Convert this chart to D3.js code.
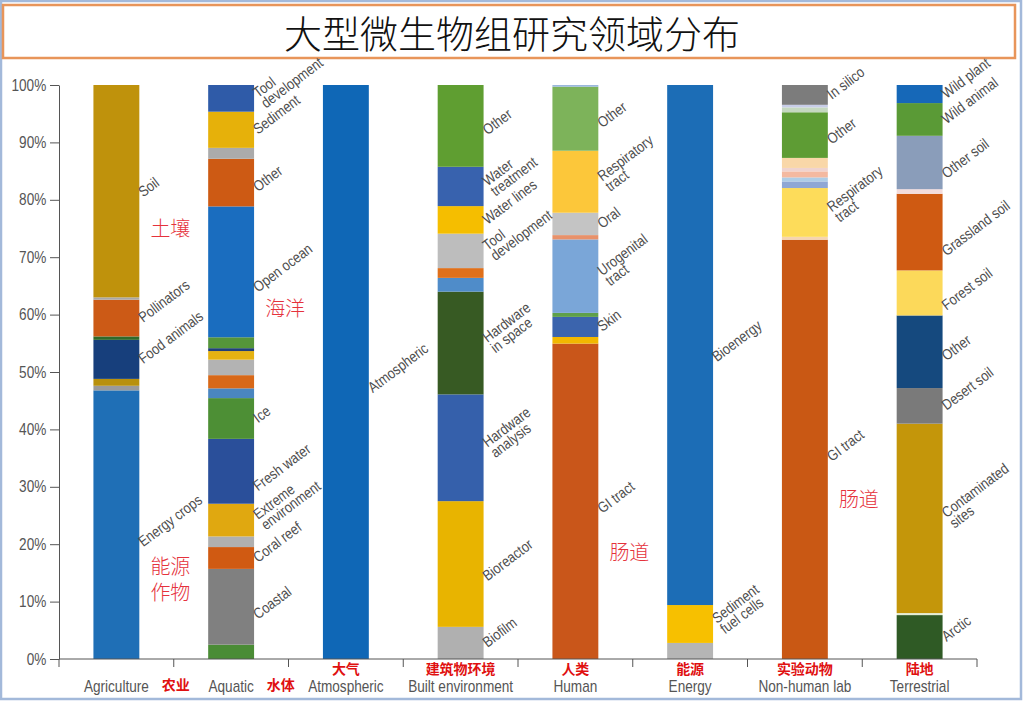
<!DOCTYPE html>
<html>
<head>
<meta charset="utf-8">
<script src="https://cdnjs.cloudflare.com/ajax/libs/d3/7.8.5/d3.min.js"></script>
<style>
  html, body { margin: 0; padding: 0; background: #fff; }
  svg { display: block; }
</style>
</head>
<body>
<div class="content"></div>
<script>
// categories along the x axis, with their chinese captions
var categories = ["Agriculture", "Aquatic", "Atmospheric", "Built environment", "Human", "Energy", "Non-human lab", "Terrestrial"];
var zhCategories = ["农业", "水体", "大气", "建筑物环境", "人类", "能源", "实验动物", "陆地"];
var yTicks = [0, 10, 20, 30, 40, 50, 60, 70, 80, 90, 100];

// segments of every bar, bottom to top: [label, percent]
var agriculture = [["Energy crops", 46.8], ["", 0.8], ["", 1.2], ["Food animals", 6.8], ["", 0.6], ["Pollinators", 6.4], ["", 0.4], ["Soil", 37.0]];
var aquatic = [["", 2.5], ["Coastal", 13.2], ["Coral reef", 3.8], ["", 1.85], ["Extreme\nenvironment", 5.7], ["Fresh water", 11.3], ["Ice", 7.1], ["", 1.7], ["", 2.3], ["", 2.7], ["", 1.5], ["", 0.5], ["", 1.9], ["Open ocean", 22.8], ["Other", 8.3], ["", 1.9], ["Sediment", 6.3], ["Tool\ndevelopment", 4.65]];
var atmospheric = [["Atmospheric", 100]];
var builtEnvironment = [["Biofilm", 5.6], ["Bioreactor", 21.9], ["Hardware\nanalysis", 18.6], ["Hardware\nin space", 17.9], ["", 2.4], ["", 1.7], ["Tool\ndevelopment", 6.0], ["Water lines", 4.8], ["Water\ntreatment", 6.85], ["Other", 14.25]];
var human = [["GI tract", 54.95], ["", 1.15], ["Skin", 3.5], ["", 0.7], ["Urogenital\ntract", 12.8], ["", 0.75], ["Oral", 3.9], ["Respiratory\ntract", 10.8], ["Other", 11.15], ["", 0.3]];
var energy = [["", 2.8], ["Sediment\nfuel cells", 6.6], ["Bioenergy", 90.6]];
var nonHumanLab = [["GI tract", 73.05], ["", 0.5], ["Respiratory\ntract", 8.5], ["", 1.15], ["", 0.7], ["", 1.05], ["", 0.6], ["", 1.75], ["Other", 7.95], ["", 0.85], ["", 0.45], ["In silico", 3.45]];
var terrestrial = [["Arctic", 7.65], ["", 0.35], ["Contaminated\nsites", 33.0], ["Desert soil", 6.2], ["Other", 12.65], ["Forest soil", 7.85], ["Grassland soil", 13.35], ["", 0.8], ["Other soil", 9.3], ["Wild animal", 5.7], ["Wild plant", 3.15]];

// colours of the segments, same order
var agricultureColors = ["#1f6fb6", "#9a9a9a", "#b8900c", "#173f7c", "#2f6a2a", "#cc5a16", "#a8a8a8", "#bf920c"];
var aquaticColors = ["#4a8c35", "#808080", "#d05a12", "#b0b0b0", "#e0a810", "#2a4f9a", "#4d8f35", "#4a86c0", "#d86818", "#b3b3b3", "#e5b212", "#203f7a", "#55953a", "#1a6dbf", "#cd5a14", "#ababab", "#e6b10a", "#2f5ba8"];
var atmosphericColors = ["#0f67b6"];
var builtEnvironmentColors = ["#b0b0b0", "#e8b400", "#3560ab", "#375a23", "#4f8cc9", "#e0701a", "#bdbdbd", "#f5be00", "#3862ae", "#5f9e31"];
var humanColors = ["#c9561a", "#f2b800", "#3b64ad", "#5ea04a", "#7aa6d8", "#e8916a", "#c4c4c4", "#fcc73a", "#7db35a", "#9ab8dc"];
var energyColors = ["#b5b5b5", "#f7c000", "#1c6db6"];
var nonHumanLabColors = ["#c95814", "#f5d5b0", "#fddc5a", "#8fa7d4", "#aecde6", "#f4b9a0", "#efd3cf", "#f9d7a8", "#5e9c34", "#c5d8c0", "#c8cde8", "#7c7c7c"];
var terrestrialColors = ["#2f5a25", "#e4eed6", "#c4960a", "#7a7a7a", "#15497e", "#fcd95a", "#cf5a12", "#f3dcdc", "#8a9dba", "#5a9a36", "#1668b8"];

// red chinese notes written inside the chart: [category, percent height, text]
var notes = [["Agriculture", 75.1, "土壤"], ["Aquatic", 61.3, "海洋"], ["Agriculture", 16.3, "能源"], ["Agriculture", 11.7, "作物"], ["Human", 18.7, "肠道"], ["Non-human lab", 27.9, "肠道"]];

var series = [agriculture, aquatic, atmospheric, builtEnvironment, human, energy, nonHumanLab, terrestrial];
var seriesColors = [agricultureColors, aquaticColors, atmosphericColors, builtEnvironmentColors, humanColors, energyColors, nonHumanLabColors, terrestrialColors];

var width = 1024, height = 703;
var sans = "'Liberation Sans', Arial, sans-serif";
var cjk = "'Noto Sans CJK SC', sans-serif";
var squeeze = 0.85;   // the source font is a condensed one
var angle = 37;

var svg = d3.select(".content")
	.append("svg")
	.attr("width", width)
	.attr("height", height);

// outer frame and title box
svg.append("rect")
	.attr("x", 1).attr("y", 1)
	.attr("width", 1020).attr("height", 698)
	.attr("fill", "#fff")
	.attr("stroke", "#a3b9da")
	.attr("stroke-width", 2.5);

svg.append("rect")
	.attr("x", 3).attr("y", 5)
	.attr("width", 1012).attr("height", 53)
	.attr("fill", "#fff")
	.attr("stroke", "#e8955a")
	.attr("stroke-width", 2.5);

svg.append("text")
	.text("大型微生物组研究领域分布")
	.attr("x", 512)
	.attr("y", 31)
	.attr("text-anchor", "middle")
	.attr("dominant-baseline", "central")
	.style("font-family", cjk)
	.style("font-weight", 300)
	.style("font-size", "38px")
	.attr("fill", "#111");

var x = d3.scaleBand()
	.domain(categories)
	.range([59, 977])
	.paddingInner(0.6)
	.paddingOuter(0.3);

var y = d3.scaleLinear()
	.domain([0, 100])
	.range([659, 85]);

// bars
var a = angle * Math.PI / 180;
series.forEach(function(segs, i) {
	var cat = categories[i];
	var g = svg.append("g").attr("class", "bar");
	var acc = 0;
	var stacked = segs.map(function(s, j) {
		var d = { name: s[0], y0: acc, y1: Math.min(acc + s[1], 100), color: seriesColors[i][j] };
		acc += s[1];
		return d;
	});

	g.selectAll("rect")
		.data(stacked)
		.enter().append("rect")
		.attr("x", x(cat))
		.attr("width", x.bandwidth())
		.attr("y", function(d) { return y(d.y1); })
		.attr("height", function(d) { return y(d.y0) - y(d.y1); })
		.attr("fill", function(d) { return d.color; });

	// rotated labels to the right of the bar
	stacked.filter(function(d) { return d.name; }).forEach(function(d) {
		var lines = d.name.split("\n");
		var lh = 13;
		var lg = svg.append("g");
		var t = lg.append("text")
			.style("font-family", sans)
			.style("font-size", "15px")
			.attr("fill", "#4d4d4d");
		lines.forEach(function(line, k) {
			t.append("tspan").attr("x", 0).attr("y", k * lh).text(line);
		});
		var w = squeeze * d3.max(t.selectAll("tspan").nodes(), function(n) { return n.getComputedTextLength(); });
		var segH = y(d.y0) - y(d.y1);
		var mid = (y(d.y0) + y(d.y1)) / 2;
		var py;
		if (lines.length > 1) py = mid;
		else if (segH < 45) py = mid + 5;
		else py = mid + (w / 2) * Math.sin(a);
		var px = x(cat) + x.bandwidth() + 4;
		lg.attr("transform", "translate(" + px + "," + py + ") rotate(" + (-angle) + ") scale(" + squeeze + ",1)");
	});
});

// y axis
var yAxis = d3.axisLeft(y)
	.tickValues(yTicks)
	.tickFormat(function(d) { return d + "%"; })
	.tickSize(9)
	.tickSizeOuter(0)
	.tickPadding(6);

var ya = svg.append("g")
	.attr("transform", "translate(59,0)")
	.call(yAxis);
ya.select(".domain").attr("stroke", "#555");
ya.selectAll(".tick line").attr("stroke", "#555");
ya.selectAll(".tick text")
	.attr("transform", "scale(" + squeeze + ",1)")
	.style("font-family", sans)
	.style("font-size", "16px")
	.attr("fill", "#555");

// x axis: baseline with ticks between categories
var step = x.step();
var x0 = x.range()[0];
svg.append("line")
	.attr("x1", x0).attr("x2", x.range()[1])
	.attr("y1", y(0)).attr("y2", y(0))
	.attr("stroke", "#555");

svg.selectAll("line.xtick")
	.data(d3.range(categories.length + 1))
	.enter().append("line")
	.attr("class", "xtick")
	.attr("x1", function(i) { return x0 + i * step; })
	.attr("x2", function(i) { return x0 + i * step; })
	.attr("y1", y(0))
	.attr("y2", y(0) + 8)
	.attr("stroke", "#555");

categories.forEach(function(cat, i) {
	var cx = x(cat) + x.bandwidth() / 2;
	var en = svg.append("text")
		.text(cat)
		.attr("transform", "translate(" + cx + ",692) scale(" + squeeze + ",1)")
		.attr("text-anchor", "middle")
		.style("font-family", sans)
		.style("font-size", "16px")
		.attr("fill", "#555");

	var zh = svg.append("text")
		.text(zhCategories[i])
		.style("font-family", cjk)
		.style("font-weight", "bold")
		.style("font-size", "14px")
		.attr("fill", "#e01010");

	if (i < 2) {
		var ew = squeeze * en.node().getComputedTextLength();
		zh.attr("x", cx + ew / 2 + 13).attr("y", 690);
	} else {
		zh.attr("x", cx).attr("y", 674).attr("text-anchor", "middle");
	}
});

// chinese notes inside the plot
svg.selectAll("text.note")
	.data(notes)
	.enter().append("text")
	.attr("class", "note")
	.text(function(d) { return d[2]; })
	.attr("x", function(d) { return x(d[0]) + x.bandwidth() / 2 + 54; })
	.attr("y", function(d) { return y(d[1]); })
	.attr("text-anchor", "middle")
	.attr("dominant-baseline", "central")
	.style("font-family", cjk)
	.style("font-weight", 300)
	.style("font-size", "20px")
	.attr("fill", "#e5323c");
</script>
</body>
</html>
